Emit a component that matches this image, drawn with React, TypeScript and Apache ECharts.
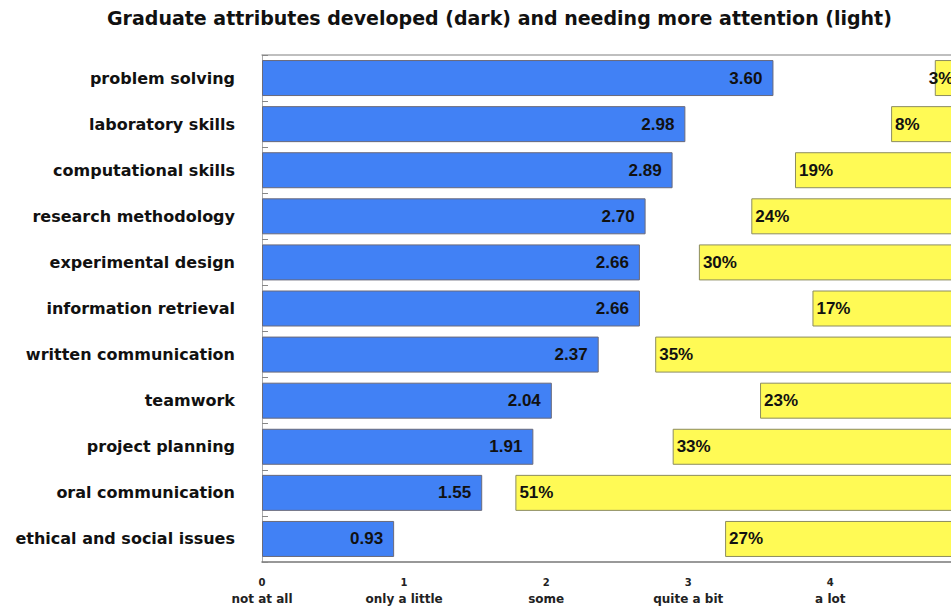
import React, { useEffect, useRef } from "react";
import * as echarts from "echarts";

const categories = [
  "problem solving",
  "laboratory skills",
  "computational skills",
  "research methodology",
  "experimental design",
  "information retrieval",
  "written communication",
  "teamwork",
  "project planning",
  "oral communication",
  "ethical and social issues",
];
const developed = [3.6, 2.98, 2.89, 2.7, 2.66, 2.66, 2.37, 2.04, 1.91, 1.55, 0.93];
const needingAttention = [3, 8, 19, 24, 30, 17, 35, 23, 33, 51, 27];
const tickNumbers = ["0", "1", "2", "3", "4"];
const tickWords = ["not at all", "only a little", "some", "quite a bit", "a lot"];

const TITLE = "Graduate attributes developed (dark) and needing more attention (light)";
const WIDE = "'DejaVu Sans', Verdana, sans-serif";
const ARIAL = "'Liberation Sans', Arial, Helvetica, sans-serif";

export default function App() {
  const ref = useRef<HTMLDivElement>(null);
  useEffect(() => {
    if (!ref.current) return;
    const chart = echarts.init(ref.current, null, { renderer: "svg" });
    const yellowData = needingAttention.map((v) =>
      v < 5 ? { value: v, label: { offset: [-10, 0] } } : v
    );
    chart.setOption({
      animation: false,
      backgroundColor: "#ffffff",
      title: {
        text: TITLE,
        left: 107,
        top: 8,
        padding: 0,
        textStyle: { fontFamily: WIDE, fontWeight: "bold", fontSize: 19, color: "#111" },
      },
      grid: {
        left: 262,
        top: 55,
        right: -10,
        bottom: 46,
        containLabel: false,
        outerBoundsMode: "none",
      },
      xAxis: [
        {
          type: "value",
          min: 0,
          max: 4.92,
          interval: 1,
          position: "bottom",
          axisLine: { show: true, lineStyle: { color: "#777", width: 1.5 } },
          axisTick: { show: false },
          splitLine: { show: false },
          axisLabel: {
            margin: 13,
            formatter: (v: number) => {
              const i = Math.round(v);
              if (Math.abs(v - i) > 1e-6 || i < 0 || i >= tickNumbers.length) return "";
              return `{n|${tickNumbers[i]}}\n{w|${tickWords[i]}}`;
            },
            rich: {
              n: { fontFamily: WIDE, fontWeight: "bold", fontSize: 10, lineHeight: 14, color: "#222" },
              w: { fontFamily: WIDE, fontWeight: "bold", fontSize: 12, lineHeight: 20, color: "#222" },
            },
          },
        },
        {
          type: "value",
          min: 0,
          max: 80,
          inverse: true,
          position: "top",
          axisLine: { show: true, lineStyle: { color: "#aaa", width: 1.5 } },
          axisTick: { show: false },
          axisLabel: { show: false },
          splitLine: { show: false },
        },
      ],
      yAxis: {
        type: "category",
        data: categories,
        inverse: true,
        axisLine: { show: true, lineStyle: { color: "#aaa", width: 1 } },
        axisTick: { show: true, inside: true, length: 6, lineStyle: { color: "#888" } },
        axisLabel: {
          margin: 27,
          fontFamily: WIDE,
          fontWeight: "bold",
          fontSize: 16,
          color: "#111",
        },
      },
      series: [
        {
          type: "bar",
          name: "developed",
          xAxisIndex: 0,
          data: developed,
          barWidth: 36,
          itemStyle: { color: "#4181f5", borderColor: "#6a6a7a", borderWidth: 1 },
          label: {
            show: true,
            position: "insideRight",
            distance: 11,
            formatter: (p: any) => Number(p.value).toFixed(2),
            fontFamily: ARIAL,
            fontWeight: "bold",
            fontSize: 17,
            color: "#111",
          },
        },
        {
          type: "bar",
          name: "needing attention",
          xAxisIndex: 1,
          data: yellowData,
          barWidth: 36,
          barGap: "-100%",
          itemStyle: { color: "#fffa55", borderColor: "#8c8c60", borderWidth: 1 },
          label: {
            show: true,
            position: "insideLeft",
            distance: 4,
            formatter: (p: any) => `${p.value}%`,
            fontFamily: ARIAL,
            fontWeight: "bold",
            fontSize: 17,
            color: "#111",
          },
        },
      ],
    });
    return () => chart.dispose();
  }, []);
  return (
    <div
      ref={ref}
      style={{ position: "absolute", left: 0, top: 0, width: 951, height: 608 }}
    />
  );
}
